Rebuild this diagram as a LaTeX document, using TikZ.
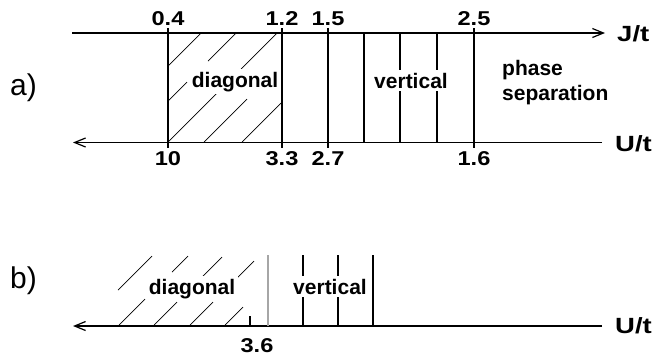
\documentclass[tikz,border=0pt]{standalone}
\usepackage{fontspec}
\setmainfont{Liberation Sans}
\newfontfamily\widesans[FakeStretch=1.18]{Liberation Sans}
\newfontfamily\widersans[FakeStretch=1.25]{Liberation Sans}
\usetikzlibrary{arrows.meta}
\begin{document}
\begin{tikzpicture}[x=1pt,y=-1pt,
  axisline/.style={line width=1.6pt},
  bar/.style={line width=1.1pt},
  graybar/.style={line width=1.1pt,draw=black!35},
  hatch/.style={line width=0.7pt},
  lbl/.style={font=\widesans\fontsize{20}{22}\selectfont\bfseries, inner sep=0pt},
  axlbl/.style={font=\widersans\fontsize{22}{24}\selectfont\bfseries, inner sep=0pt, anchor=west},
  region/.style={font=\fontsize{21}{23}\selectfont\bfseries, inner sep=2.5pt, fill=white, anchor=base},
  rtext/.style={font=\fontsize{21}{23}\selectfont\bfseries, inner sep=0pt, anchor=base west},
  tag/.style={font=\fontsize{30}{32}\selectfont, inner sep=0pt, anchor=base west},
  barb/.style={-{Straight Barb[length=11pt,width=9pt,line width=1.2pt]}}
]
\useasboundingbox (0,0) rectangle (652,360);

% ---------- a) ----------
\node[tag] (taga) at (10,95) {a)};
\coordinate (jl) at (72,33);
\coordinate (jr) at (605,33);
\coordinate (ul) at (73,142.5);
\coordinate (ur) at (602,142.5);
\draw[axisline,barb] (jl) -- (jr);
\draw[axisline,barb] (ur) -- (ul);
\node[axlbl] (jt) at (617,34) {J/t};
\node[axlbl] (ut) at (615,144) {U/t};

% long bars
\foreach \x/\n in {168/a,282/b,328/c,474/d}{
  \coordinate (top\n) at (\x,28);
  \coordinate (bot\n) at (\x,148);
  \draw[bar] (top\n) -- (bot\n);
}
% short bars
\foreach \x/\n in {364/e,400/f,437/g}{
  \coordinate (top\n) at (\x,33);
  \coordinate (bot\n) at (\x,142.5);
  \draw[bar] (top\n) -- (bot\n);
}

% hatching a)
\foreach \ax/\ay/\bx/\by [count=\i] in {168/66/201/33, 168/101/187/82, 208/61/236/33,
   168/142/218/92, 241/69/277/33, 204/142/247/99, 242/142/281/103}{
  \coordinate (ha\i) at (\ax,\ay);
  \coordinate (hb\i) at (\bx,\by);
  \draw[hatch] (ha\i) -- (hb\i);
}

\node[lbl,anchor=base] (l04) at (168,25) {0.4};
\node[lbl,anchor=base] (l12) at (282,25) {1.2};
\node[lbl,anchor=base] (l15) at (328,25) {1.5};
\node[lbl,anchor=base] (l25) at (474,25) {2.5};
\node[lbl,anchor=base] (l10) at (168,165) {10};
\node[lbl,anchor=base] (l33) at (282,165) {3.3};
\node[lbl,anchor=base] (l27) at (328,165) {2.7};
\node[lbl,anchor=base] (l16) at (474,165) {1.6};

\node[region] (diaga) at (235,87) {diagonal};
\node[region] (verta) at (411,88) {vertical};
\node[rtext] (phase) at (502,75) {phase};
\node[rtext] (sep) at (502,100) {separation};

% ---------- b) ----------
\node[tag] (tagb) at (10,288) {b)};
\coordinate (bl) at (73,326);
\coordinate (br) at (602,326);
\draw[axisline,barb] (br) -- (bl);
\node[axlbl] (ubt) at (615,326) {U/t};

\coordinate (tk1) at (250,316);
\coordinate (tk2) at (250,326);
\draw[bar] (tk1) -- (tk2);
\node[lbl,anchor=base] (l36) at (257,352) {3.6};

\coordinate (gt) at (268,255);
\coordinate (gb) at (268,326);
\draw[graybar] (gt) -- (gb);
\foreach \x/\n in {303/p,338/q,373/r}{
  \coordinate (bt\n) at (\x,255);
  \coordinate (bb\n) at (\x,326);
  \draw[bar] (bt\n) -- (bb\n);
}

% hatching b)
\foreach \ax/\ay/\bx/\by [count=\i] in {118/290/152/256, 119/325/145/299, 172/272/188/256,
   154/325/177/302, 200/279/222/257, 190/325/213/302, 237/278/254/261, 225/325/243/307}{
  \coordinate (hc\i) at (\ax,\ay);
  \coordinate (hd\i) at (\bx,\by);
  \draw[hatch] (hc\i) -- (hd\i);
}

\node[region] (diagb) at (192,294) {diagonal};
\node[region] (vertb) at (330,294) {vertical};
\end{tikzpicture}
\end{document}
